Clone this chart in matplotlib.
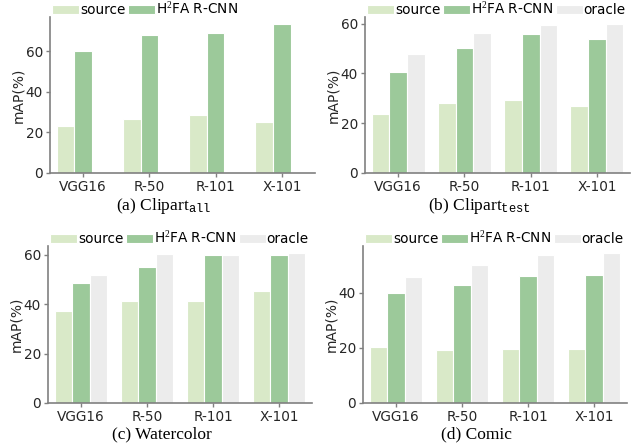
import numpy as np
import matplotlib
matplotlib.use('Agg')
import matplotlib.pyplot as plt

plt.rcParams['font.family'] = 'DejaVu Sans'
plt.rcParams['mathtext.fontset'] = 'custom'
plt.rcParams['mathtext.rm'] = 'Liberation Serif'
plt.rcParams['mathtext.it'] = 'Liberation Serif:italic'
plt.rcParams['mathtext.tt'] = 'Liberation Mono'

backbones = ['VGG16', 'R-50', 'R-101', 'X-101']
methods = ['source', r'H$^2$FA R-CNN', 'oracle']
colors = ['#d9e9c8', '#9cc99a', '#ececec']

# mAP values per panel (source, H2FA R-CNN, oracle)
clipart_all_source = [23.3, 26.7, 28.7, 25.4]
clipart_all_h2fa = [60.0, 68.1, 69.3, 73.3]

clipart_test_source = [23.7, 28.3, 29.5, 27.1]
clipart_test_h2fa = [40.5, 50.1, 55.8, 53.9]
clipart_test_oracle = [48.0, 56.3, 59.3, 59.7]

watercolor_source = [37.4, 41.1, 41.2, 45.2]
watercolor_h2fa = [48.4, 55.1, 59.8, 59.7]
watercolor_oracle = [51.7, 60.2, 59.8, 60.5]

comic_source = [20.4, 19.2, 19.6, 19.5]
comic_h2fa = [39.8, 42.7, 46.3, 46.5]
comic_oracle = [45.6, 50.0, 53.7, 54.3]

panels = [
    (r'(a) Clipart$_{\mathtt{all}}$', [clipart_all_source, clipart_all_h2fa, None]),
    (r'(b) Clipart$_{\mathtt{test}}$', [clipart_test_source, clipart_test_h2fa, clipart_test_oracle]),
    ('(c) Watercolor', [watercolor_source, watercolor_h2fa, watercolor_oracle]),
    ('(d) Comic', [comic_source, comic_h2fa, comic_oracle]),
]

rects = [
    [0.0792, 0.6095, 0.420, 0.3521],
    [0.5785, 0.6095, 0.420, 0.3521],
    [0.0761, 0.0903, 0.4184, 0.3544],
    [0.5753, 0.0903, 0.4184, 0.3544],
]
title_y = [-0.235, -0.235, -0.225, -0.225]

fig = plt.figure(figsize=(6.31, 4.43), dpi=100)
x = np.arange(len(backbones))
w = 0.8 / 3
grey = '#808080'

for (title, series), rect, ty in zip(panels, rects, title_y):
    ax = fig.add_axes(rect)
    for i, vals in enumerate(series):
        if vals is None:
            continue
        ax.bar(x + (i - 1) * w, vals, w, color=colors[i], edgecolor='white',
               linewidth=0.8, label=methods[i])
    ax.set_xlim(-0.5, 3.5)
    ax.set_xticks(x)
    ax.set_xticklabels(backbones)
    ax.set_ylabel('mAP(%)', fontsize=10, color='#262626', labelpad=0.5)
    for s in ['top', 'right']:
        ax.spines[s].set_visible(False)
    for s in ['left', 'bottom']:
        ax.spines[s].set_color(grey)
        ax.spines[s].set_linewidth(1.2)
    ax.tick_params(labelsize=9.8, colors=grey, labelcolor='#262626', length=3, width=1,
                   pad=2)
    ax.legend(loc='lower left', bbox_to_anchor=(0, 0.985), ncol=3, frameon=False,
              fontsize=9.8, borderpad=0.15, borderaxespad=0, handletextpad=0.05,
              columnspacing=0.2, handlelength=2.0, handleheight=0.7)
    ax.text(0.43, ty, title, transform=ax.transAxes, ha='center', va='baseline',
            fontsize=12.5, family='Liberation Serif', color='black')

fig.savefig('out.png', dpi=100)
